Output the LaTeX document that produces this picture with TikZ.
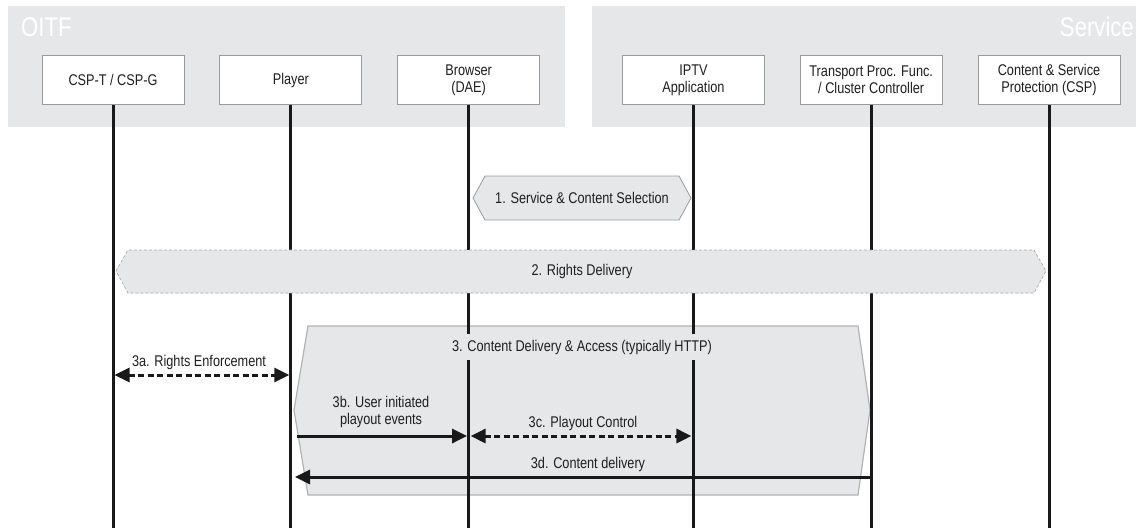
\documentclass[tikz,border=0pt]{standalone}
\usepackage{fontspec}
\setmainfont{Liberation Sans}[FakeStretch=0.82]
\usetikzlibrary{positioning,arrows.meta}
\definecolor{panel}{HTML}{E6E7E8}
\definecolor{edge}{HTML}{9A9A9A}

\begin{document}
\begin{tikzpicture}[
  x=1pt, y=-1pt,
  font=\fontsize{15.5}{17}\selectfont,
  every node/.style={text=black!88},
  title/.style={text=white, font=\fontsize{27}{30}\selectfont, inner sep=0pt},
  actor/.style={draw=edge, fill=white, line width=0.8pt, align=center, minimum width=142pt, minimum height=49pt, inner sep=0pt},
  life/.style={line width=3pt, black!90},
  band/.style={fill=panel, draw=edge, line width=0.8pt},
  msg/.style={line width=3pt, black!90},
  ctl/.style={msg, dash pattern=on 6pt off 3.5pt},
  onehead/.style={-{Triangle[length=15pt,width=14pt]}},
  twohead/.style={{Triangle[length=15pt,width=14pt]}-{Triangle[length=15pt,width=14pt]}}
]
  \useasboundingbox (0,0) rectangle (1142,528);
  \fill[panel] (8,6) rectangle (565,127);
  \fill[panel] (592,6) rectangle (1136,127);
  \node[title, anchor=base west] (oitf) at (21,36) {OITF};
  \node[title, anchor=base east] (srv) at (1134,36) {Service};

  \node[actor] (csp) at (113,80) {CSP-T / CSP-G};
  \node[actor, right=35pt of csp] (player) {Player};
  \node[actor, right=35pt of player] (dae) {Browser\\(DAE)};
  \node[actor, right=82pt of dae] (iptv) {IPTV\\Application};
  \node[actor, right=35pt of iptv] (tpf) {Transport Proc. Func.\\/ Cluster Controller};
  \node[actor, right=35pt of tpf] (prot) {Content \& Service\\Protection (CSP)};

  \draw[band, draw=black!30, line width=1.2pt] (294,410) -- (308,326) -- (858,326) -- (870,410) -- (858,495) -- (308,495) -- cycle;

  \coordinate (bot) at (0,528);
  \foreach \n in {csp,player,dae,iptv,tpf,prot}
    \draw[life] (\n.south) -- (\n.south |- bot);

  \draw[band] (473,198) -- (485,176) -- (679,176) -- (691,198) -- (679,220) -- (485,220) -- cycle;
  \node (select) at (582,198) {1. Service \& Content Selection};
  \draw[band, draw=black!35, densely dashed, line width=0.6pt] (116,271) -- (128,250) -- (1034,250) -- (1046,271) -- (1034,293) -- (128,293) -- cycle;
  \node (rights) at (582,271) {2. Rights Delivery};
  \node[fill=panel, inner xsep=2pt, inner ysep=6pt] (access) at (582,347) {3. Content Delivery \& Access (typically HTTP)};

  \node (enf) at (199,362) {3a. Rights Enforcement};
  \node[align=center] (evt) at (381,412) {3b. User initiated\\playout events};
  \node (ctrl) at (583,423) {3c. Playout Control};
  \node (dlv) at (588,464) {3d. Content delivery};

  \coordinate (evs) at (297,436);
  \coordinate (dle) at (295,477);
  \draw[ctl, twohead, shorten <=1.5pt, shorten >=1.5pt] (csp |- 0,375) -- (player |- 0,375);
  \draw[msg, onehead, shorten >=1.5pt] (evs) -- (dae |- evs);
  \draw[ctl, twohead, shorten <=2pt, shorten >=2pt] (dae |- evs) -- (iptv |- evs);
  \draw[msg, onehead] (tpf |- dle) -- (dle);
\end{tikzpicture}
\end{document}
